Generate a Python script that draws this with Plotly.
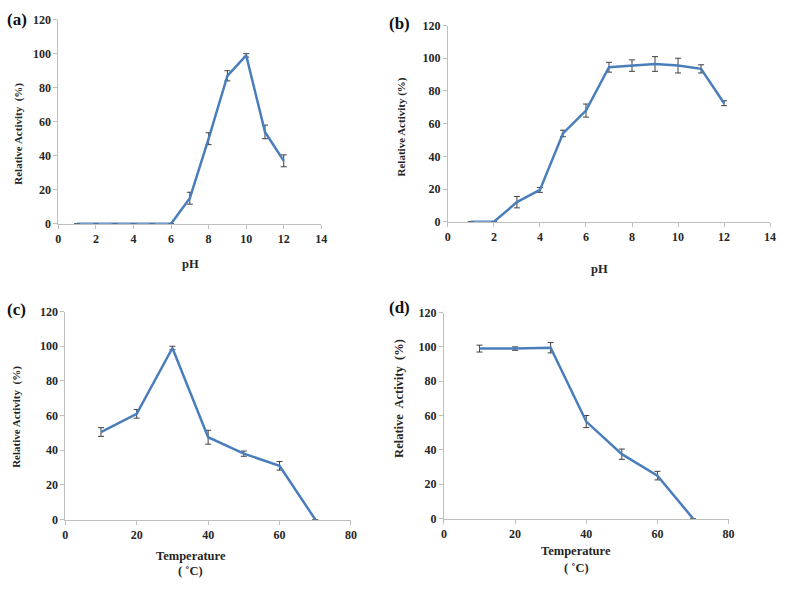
import plotly.graph_objects as go

# ---- data ----
ph_a = [1, 2, 3, 4, 5, 6, 7, 8, 9, 10, 11, 12]
act_a = [0, 0, 0, 0, 0, 0, 15, 50, 87, 99, 54, 37]
err_a = [0, 0, 0, 0, 0, 0, 3.5, 3.5, 3, 1, 4, 3.5]

ph_b = [1, 2, 3, 4, 5, 6, 7, 8, 9, 10, 11, 12]
act_b = [0, 0, 12, 19.5, 54, 68, 94.5, 95.5, 96.5, 95.5, 93.5, 72.5]
err_b = [0, 0, 3.5, 1.5, 2, 4, 3, 3.5, 4.5, 4.5, 2.5, 1.5]

temp_c = [10, 20, 30, 40, 50, 60, 70]
act_c = [50.5, 61, 99, 47.5, 38, 31, 0]
err_c = [2.5, 2.5, 1, 4, 1.5, 2.5, 0]

temp_d = [10, 20, 30, 40, 50, 60, 70]
act_d = [99, 99, 99.5, 56.5, 37.5, 25, 0]
err_d = [2, 1, 3, 3.5, 3, 2.5, 0]

ph_ticks = [0, 2, 4, 6, 8, 10, 12, 14]
temp_ticks = [0, 20, 40, 60, 80]
act_ticks = [0, 20, 40, 60, 80, 100, 120]

W, H = 787, 589
LINE = "#4A7EBB"
AX = "#BFBFBF"
FONT = "Liberation Serif"


def px(x):
    return x / W


def py(y):
    return 1 - y / H


# plot areas in pixels: (left, right, top, bottom)
boxes = {
    "a": (56, 322, 13, 222),
    "b": (450, 776, 19, 220),
    "c": (63, 352, 312, 525),
    "d": (446, 734, 313, 524),
}

fig = go.Figure()

panels = [
    ("a", ph_a, act_a, err_a, "x", "y"),
    ("b", ph_b, act_b, err_b, "x2", "y2"),
    ("c", temp_c, act_c, err_c, "x3", "y3"),
    ("d", temp_d, act_d, err_d, "x4", "y4"),
]

for name, xs, ys, es, xa, ya in panels:
    fig.add_trace(go.Scatter(
        x=xs, y=ys, mode="lines", xaxis=xa, yaxis=ya,
        line=dict(color=LINE, width=2.5),
        error_y=dict(type="data", array=es, visible=True,
                     color="#404040", thickness=1, width=3),
        showlegend=False, cliponaxis=False,
    ))

tickfont = dict(family=FONT, size=12, color="#262626")
layout = dict(
    width=W, height=H,
    margin=dict(l=0, r=0, t=0, b=0),
    paper_bgcolor="white", plot_bgcolor="white",
)

axis_names = [("xaxis", "yaxis"), ("xaxis2", "yaxis2"),
              ("xaxis3", "yaxis3"), ("xaxis4", "yaxis4")]
for (name, xs, ys, es, xa, ya), (xk, yk) in zip(panels, axis_names):
    l, r, t, b = boxes[name]
    if name in ("a", "b"):
        xr, xt = [0, 14], ph_ticks
    else:
        xr, xt = [0, 80], temp_ticks
    layout[xk] = dict(
        domain=[px(l), px(r)], anchor=ya, range=xr,
        tickvals=xt, ticktext=["<b>%d</b>" % v for v in xt],
        showline=True, linecolor=AX, linewidth=1,
        ticks="outside", ticklen=4, tickcolor=AX,
        showgrid=False, zeroline=False, tickfont=tickfont,
    )
    layout[yk] = dict(
        domain=[py(b), py(t)], anchor=xa, range=[0, 120],
        tickvals=act_ticks, ticktext=["<b>%d</b>" % v for v in act_ticks],
        showline=True, linecolor=AX, linewidth=1,
        ticks="outside", ticklen=4, tickcolor=AX,
        showgrid=False, zeroline=False, tickfont=tickfont,
    )

fig.update_layout(**layout)

ann = []
# panel labels
for lab, x, y in [("<b>(a)</b>", 2, 13), ("<b>(b)</b>", 388, 17),
                  ("<b>(c)</b>", 2, 310), ("<b>(d)</b>", 388, 308)]:
    ann.append(dict(text=lab, x=px(x), y=py(y), xref="paper", yref="paper",
                    xanchor="left", yanchor="middle", showarrow=False,
                    font=dict(family=FONT, size=17, color="#111111")))
# y titles
for txt, x, y, s in [("<b>Relative Activity  (%)</b>", 16, 130, 11),
                     ("<b>Relative Activity (%)</b>", 403, 123, 11),
                     ("<b>Relative Activity  (%)</b>", 13, 420, 11),
                     ("<b>Relative  Activity  (%)</b>", 401, 401, 12.5)]:
    ann.append(dict(text=txt, x=px(x), y=py(y),
                    xref="paper", yref="paper", textangle=-90,
                    xanchor="center", yanchor="middle", showarrow=False,
                    font=dict(family=FONT, size=s, color="#262626")))
# x titles
for txt, x, y in [("<b>pH</b>", 190, 263), ("<b>pH</b>", 603, 268),
                  ("<b>Temperature</b>", 190, 562), ("<b>( ˚C)</b>", 190, 578),
                  ("<b>Temperature</b>", 580, 557), ("<b>( ˚C)</b>", 580, 575)]:
    ann.append(dict(text=txt, x=px(x), y=py(y), xref="paper", yref="paper",
                    xanchor="center", yanchor="middle", showarrow=False,
                    font=dict(family=FONT, size=12.5, color="#262626")))
fig.update_layout(annotations=ann)

fig.write_html("out.html",
               config={"displayModeBar": False},
               post_script="document.body.style.margin='0';")
